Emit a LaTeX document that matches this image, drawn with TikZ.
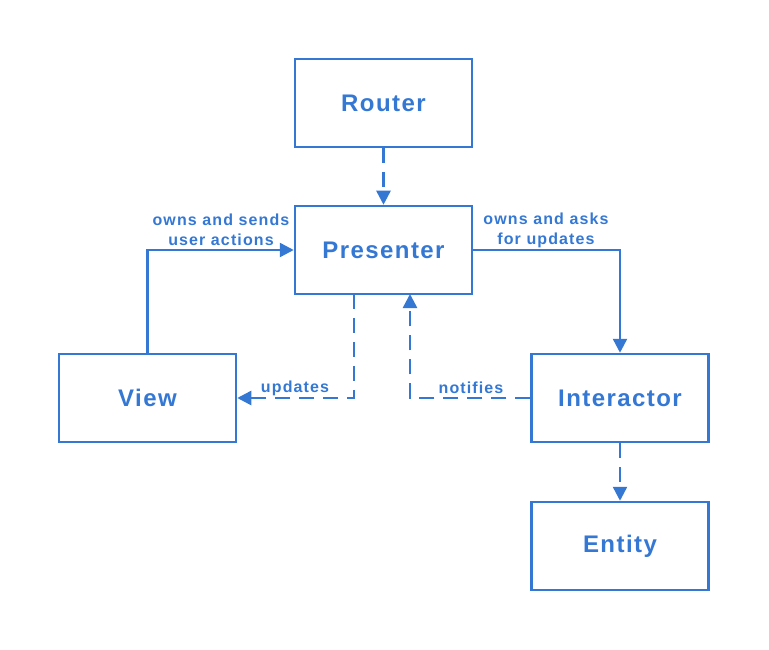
\documentclass[tikz,border=0pt]{standalone}
\usepackage{fontspec}
\setmainfont{Liberation Sans}
\newfontfamily\boxfont[LetterSpace=6]{Liberation Sans Bold}
\newfontfamily\lblfont[LetterSpace=7]{Liberation Sans Bold}
\usetikzlibrary{arrows.meta}
\definecolor{blu}{HTML}{3478D4}
\tikzset{
  box/.style={draw=blu, line width=2.5pt, minimum width=177pt, minimum height=88pt, inner sep=0pt,
    text=blu, font=\boxfont\fontsize{24}{28}\selectfont},
  conn/.style={draw=blu, line width=2.5pt, -{Triangle[length=14pt,width=14pt]}},
  dsh/.style={dash pattern=on 15pt off 9pt},
  lbl/.style={text=blu, font=\lblfont\fontsize{16}{20}\selectfont, align=center, inner sep=0pt}
}
\begin{document}
\begin{tikzpicture}[x=1pt,y=-1pt]
\useasboundingbox (0,0) rectangle (769,650);
\node[box] (router) at (383.5,103) {Router};
\node[box] (presenter) at (383.5,250) {Presenter};
\node[box] (view) at (147.5,398) {View};
\node[box] (interactor) at (620,398) {Interactor};
\node[box] (entity) at (620,546) {Entity};
\coordinate (pb1) at (354,294);
\coordinate (pb2) at (410,294);
\draw[conn,dsh] (router) -- (presenter);
\draw[conn] (view.north) |- (presenter.west);
\draw[conn] (presenter.east) -| (interactor.north);
\draw[conn,dsh] (pb1) |- (view.east);
\draw[conn,dsh] (interactor.west) -| (pb2);
\draw[conn,dsh] (interactor) -- (entity);
\node[lbl] (l1) at (221,230) {owns and sends\\user actions};
\node[lbl] (l2) at (546,230) {owns and asks\\for updates};
\node[lbl] (l3) at (295,388) {updates};
\node[lbl] (l4) at (471,388) {notifies};
\end{tikzpicture}
\end{document}
